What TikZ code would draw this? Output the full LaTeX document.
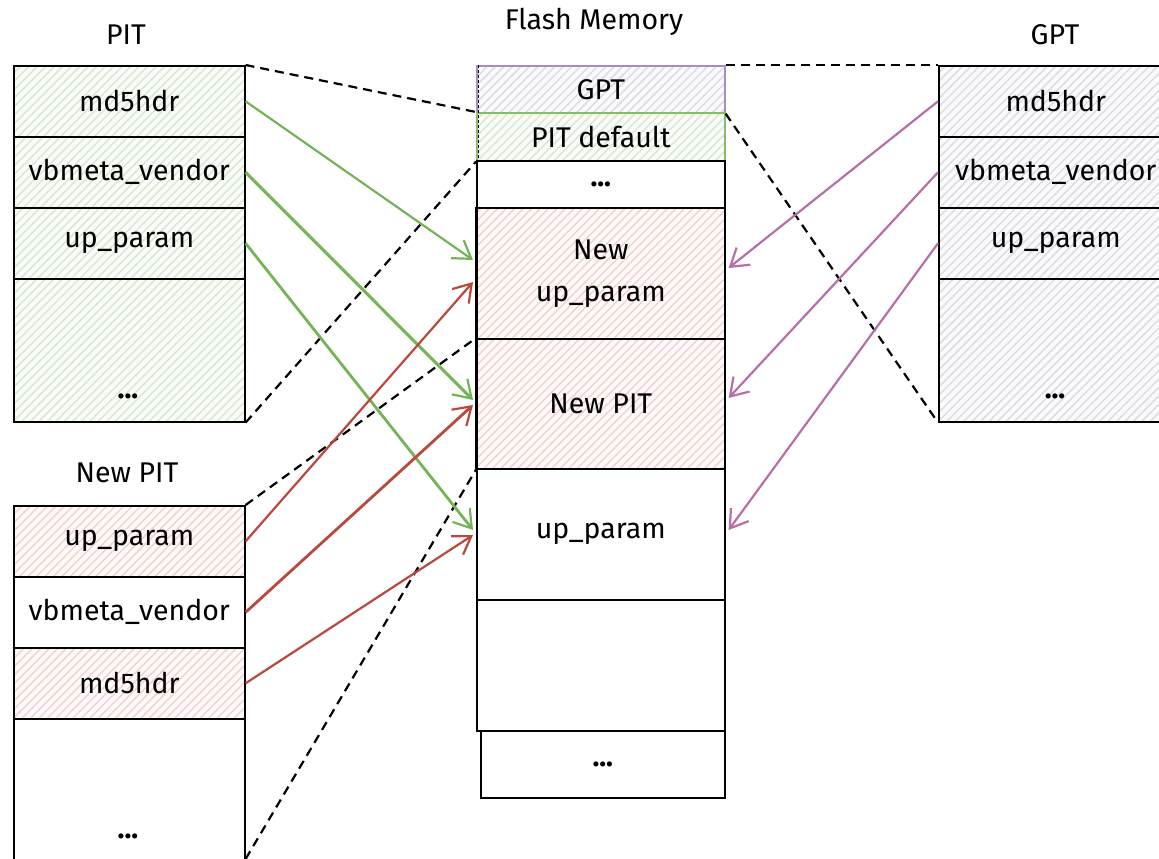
\documentclass[tikz,border=0pt]{standalone}
\usepackage{fontspec}
\setmainfont{Fira Sans}
\usetikzlibrary{arrows.meta,patterns.meta,calc}

\definecolor{gfill}{HTML}{FAFCF9}
\definecolor{gline}{HTML}{DAE7D5}
\definecolor{rfill}{HTML}{FEFAFA}
\definecolor{rline}{HTML}{F4D2D2}
\definecolor{vfill}{HTML}{FAF9FB}
\definecolor{vline}{HTML}{DFDBE3}
\definecolor{gborder}{HTML}{86BD68}
\definecolor{vborder}{HTML}{A98BC6}
\definecolor{garrow}{HTML}{74B35A}
\definecolor{rarrow}{HTML}{B8493F}
\definecolor{varrow}{HTML}{B76FA8}

\tikzset{
  title/.style={font=\fontsize{28.5}{33}\selectfont, inner sep=0pt},
  cell/.style={draw=black, line width=1.6pt, anchor=north west, inner sep=0pt,
    font=\fontsize{28.5}{33}\selectfont, align=center},
  sidecol/.style={cell, minimum width=231pt},
  gptcol/.style={cell, minimum width=234pt},
  flashcol/.style={cell, minimum width=248pt},
  tall/.style={minimum height=#1pt},
  hatchgreen/.style={preaction={fill=gfill}, pattern={Lines[angle=45,distance=6pt,line width=1.5pt]}, pattern color=gline},
  hatchred/.style={preaction={fill=rfill}, pattern={Lines[angle=45,distance=6pt,line width=1.5pt]}, pattern color=rline},
  hatchviolet/.style={preaction={fill=vfill}, pattern={Lines[angle=45,distance=6pt,line width=1.5pt]}, pattern color=vline},
  dots/.style={font=\fontsize{28.5}{33}\selectfont\bfseries, inner sep=0pt},
  link/.style={black, line width=2.2pt, dash pattern=on 9pt off 6pt},
  move/.style={line width=2.2pt, -{Straight Barb[length=17pt,width=22pt,line width=2.2pt]}},
}

\begin{document}
\begin{tikzpicture}[x=1pt,y=-1pt]
\useasboundingbox (0,0) rectangle (1159,859);
\clip (0,0) rectangle (1159,859);

% titles
\node[title] (tpit)   at (126,35)  {PIT};
\node[title] (tflash) at (594,22)  {Flash Memory};
\node[title] (tgpt)   at (1055,35) {GPT};
\node[title] (tnew)   at (127,473) {New PIT};

% PIT table
\node[sidecol, tall=71, hatchgreen] (p1) at (13,65)  {md5hdr};
\node[sidecol, tall=71, hatchgreen] (p2) at (13,136) {vbmeta\_vendor};
\node[sidecol, tall=71, hatchgreen] (p3) at (13,207) {up\_param};
\node[sidecol, tall=143, hatchgreen] (p4) at (13,278) {};
\node[dots] (p4d) at (128,396) {...};

% New PIT table
\node[sidecol, tall=71, hatchred] (n1) at (13,505) {up\_param};
\node[sidecol, tall=71]           (n2) at (13,576) {vbmeta\_vendor};
\node[sidecol, tall=71, hatchred] (n3) at (13,647) {md5hdr};
\node[sidecol, tall=170]          (n4) at (13,718) {};
\node[dots] (n4d) at (128,836) {...};

% Flash memory layout
\node[flashcol, tall=47, hatchviolet, draw=vborder] (f1) at (476,65) {GPT};
\node[flashcol, tall=48, hatchgreen, draw=gborder]  (f2) at (476,112) {PIT default};
\node[flashcol, tall=47] (f3) at (476,160) {\textbf{...}};
\node[flashcol, tall=131, hatchred] (f4) at (476,207) {New\\[9pt]up\_param};
\node[flashcol, tall=130, hatchred] (f5) at (476,338) {New PIT};
\node[flashcol, tall=131] (f6) at (476,468) {up\_param};
\node[flashcol, tall=131] (f7) at (476,599) {};
\node[cell, minimum width=244pt, tall=67] (f8) at (480,730) {\textbf{...}};
\draw[black, line width=0.6pt, dash pattern=on 3pt off 2pt] ([xshift=2pt]f1.north west) -- ([xshift=2pt]f2.south west);
\draw[black, line width=3pt] (f4.north west) -- (f5.south west);

% GPT table
\node[gptcol, tall=71, hatchviolet] (g1) at (938,65)  {md5hdr};
\node[gptcol, tall=71, hatchviolet] (g2) at (938,136) {vbmeta\_vendor};
\node[gptcol, tall=71, hatchviolet] (g3) at (938,207) {up\_param};
\node[gptcol, tall=143, hatchviolet] (g4) at (938,278) {};
\node[dots] (g4d) at (1055,396) {...};

% dashed region guides
\coordinate (nend) at ($(n4.north east)+(0,141)$);
\draw[link] (p1.north east) -- (f2.north west);
\draw[link] (p4.south east) -- (f2.south west);
\draw[link] (n1.north east) -- (f5.north west);
\draw[link] (nend) -- (f5.south west);
\draw[link] (f1.north east) -- (g1.north west);
\draw[link] (f1.south east) -- (g4.south west);

% arrow end points on the flash cells
\coordinate (a1) at ($(f4.north west)+(-3,53)$);
\coordinate (a2) at ($(f5.north west)+(-3,62)$);
\coordinate (a3) at ($(f6.north west)+(-3,62)$);
\coordinate (b1) at ($(f4.north west)+(-3,75)$);
\coordinate (b2) at ($(f5.north west)+(-3,67)$);
\coordinate (b3) at ($(f6.north west)+(-3,67)$);
\coordinate (c1) at ($(f4.north east)+(3,61)$);
\coordinate (c2) at ($(f5.north east)+(3,60)$);
\coordinate (c3) at ($(f6.north east)+(3,62)$);

% PIT entries
\draw[move, garrow] (p1.east) -- (a1);
\draw[move, garrow, line width=3pt] (p2.east) -- (a2);
\draw[move, garrow, line width=2.8pt] (p3.east) -- (a3);
% New PIT entries
\draw[move, rarrow] (n1.east) -- (b1);
\draw[move, rarrow, line width=2.8pt] (n2.east) -- (b2);
\draw[move, rarrow] (n3.east) -- (b3);
% GPT entries
\draw[move, varrow] (g1.west) -- (c1);
\draw[move, varrow] (g2.west) -- (c2);
\draw[move, varrow] (g3.west) -- (c3);
\end{tikzpicture}
\end{document}
